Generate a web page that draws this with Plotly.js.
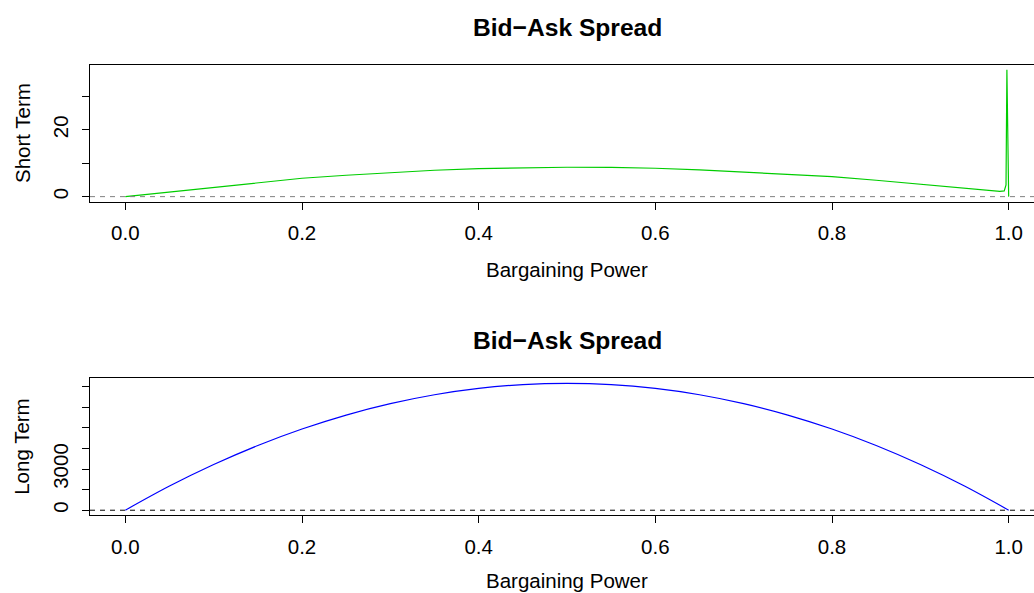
<!DOCTYPE html>
<html>
<head>
<meta charset="utf-8">
<script src="https://cdn.plot.ly/plotly-3.0.1.min.js"></script>
<style>
html, body { margin: 0; padding: 0; overflow: hidden; background: #fff; }
#chart { width: 1060px; height: 593px; }
</style>
</head>
<body>
<div id="chart"></div>
<script>
// ---- Data ----
const mainTitle = "Bid\u2212Ask Spread";
const xTitle = "Bargaining Power";
const shortTitle = "Short Term";
const longTitle = "Long Term";

const shortX = [0, 0.05, 0.1, 0.15, 0.2, 0.25, 0.3, 0.35, 0.4, 0.45, 0.5, 0.55, 0.6, 0.65, 0.7, 0.75, 0.8, 0.85, 0.9, 0.95, 0.98, 0.99, 0.995, 0.997, 0.998, 0.999, 1.0];
const shortY = [0, 1.4, 2.8, 4.2, 5.5, 6.4, 7.2, 7.9, 8.4, 8.7, 8.8, 8.75, 8.5, 8.0, 7.4, 6.8, 6.0, 4.9, 3.7, 2.6, 1.9, 1.6, 1.7, 3.5, 38, 12, 0];

const longX = [0, 0.05, 0.1, 0.15, 0.2, 0.25, 0.3, 0.35, 0.4, 0.45, 0.5, 0.55, 0.6, 0.65, 0.7, 0.75, 0.8, 0.85, 0.9, 0.95, 1.0];
const longY = [0, 1760, 3330, 4720, 5920, 6940, 7770, 8420, 8880, 9160, 9250, 9160, 8880, 8420, 7770, 6940, 5920, 4720, 3330, 1760, 0];

const xTickVals = [0, 0.2, 0.4, 0.6, 0.8, 1.0];
const xTickText = ["0.0", "0.2", "0.4", "0.6", "0.8", "1.0"];
const shortTickVals = [0, 10, 20, 30];
const shortTickText = ["0", "", "20", ""];
const longTickVals = [0, 1500, 3000, 4500, 6000, 7500, 9000];
const longTickText = ["0", "", "3000", "", "", "", ""];

// ---- Styling ----
const FONT = "Liberation Sans, Arial, Helvetica, sans-serif";
const FS = 20.5;
const H = 593;
const py = p => 1 - p / H;

const xAxisBase = {
  range: [-0.04, 1.04],
  tickmode: "array",
  tickvals: xTickVals,
  ticktext: xTickText,
  ticks: "outside",
  ticklen: 7,
  tickwidth: 1,
  tickcolor: "#000",
  showline: true,
  mirror: true,
  linecolor: "#000",
  linewidth: 1,
  showgrid: false,
  zeroline: false,
  automargin: false,
  ticklabelstandoff: 6,
  tickfont: { family: FONT, size: FS, color: "#000" }
};
const yAxisBase = {
  tickmode: "array",
  ticks: "outside",
  ticklen: 7,
  tickwidth: 1,
  tickcolor: "#000",
  tickangle: -90,
  showline: true,
  mirror: true,
  linecolor: "#000",
  linewidth: 1,
  showgrid: false,
  zeroline: false,
  automargin: false,
  ticklabelstandoff: 6,
  tickfont: { family: FONT, size: FS, color: "#000" }
};

const traces = [
  { x: shortX, y: shortY, type: "scatter", mode: "lines", xaxis: "x", yaxis: "y",
    line: { color: "#00CD00", width: 1.2 }, hoverinfo: "skip" },
  { x: longX, y: longY, type: "scatter", mode: "lines", xaxis: "x2", yaxis: "y2",
    line: { color: "#0000FF", width: 1.2, shape: "spline" }, hoverinfo: "skip" }
];

const layout = {
  width: 1060,
  height: H,
  margin: { l: 90, r: 16, t: 0, b: 0 },
  paper_bgcolor: "#fff",
  plot_bgcolor: "#fff",
  showlegend: false,
  font: { family: FONT, size: FS, color: "#000" },
  xaxis: Object.assign({}, xAxisBase, { domain: [0, 1], anchor: "y" }),
  yaxis: Object.assign({}, yAxisBase, { domain: [py(201.7), py(64.7)], anchor: "x",
    range: [-1.52, 39.52], tickvals: shortTickVals, ticktext: shortTickText }),
  xaxis2: Object.assign({}, xAxisBase, { domain: [0, 1], anchor: "y2" }),
  yaxis2: Object.assign({}, yAxisBase, { domain: [py(515.3), py(378.3)], anchor: "x2",
    range: [-370, 9620], tickvals: longTickVals, ticktext: longTickText }),
  shapes: [
    { type: "line", xref: "x domain", yref: "y", x0: 0, x1: 1, y0: 0, y1: 0,
      line: { color: "#808080", width: 1, dash: "5px,5px" } },
    { type: "line", xref: "x2 domain", yref: "y2", x0: 0, x1: 1, y0: 0, y1: 0,
      line: { color: "#000", width: 1, dash: "5px,5px" } }
  ],
  annotations: [
    { text: "<b>" + mainTitle + "</b>", xref: "paper", yref: "paper", x: 0.5, y: py(28),
      xanchor: "center", yanchor: "middle", showarrow: false, font: { family: FONT, size: 24.6 } },
    { text: "<b>" + mainTitle + "</b>", xref: "paper", yref: "paper", x: 0.5, y: py(340),
      xanchor: "center", yanchor: "middle", showarrow: false, font: { family: FONT, size: 24.6 } },
    { text: xTitle, xref: "paper", yref: "paper", x: 0.5, y: py(269),
      xanchor: "center", yanchor: "middle", showarrow: false, font: { family: FONT, size: FS } },
    { text: xTitle, xref: "paper", yref: "paper", x: 0.5, y: py(580),
      xanchor: "center", yanchor: "middle", showarrow: false, font: { family: FONT, size: FS } },
    { text: shortTitle, xref: "paper", yref: "paper", x: (22 - 90) / 954, y: py(133),
      xanchor: "center", yanchor: "middle", textangle: -90, showarrow: false, font: { family: FONT, size: FS } },
    { text: longTitle, xref: "paper", yref: "paper", x: (22 - 90) / 954, y: py(446.8),
      xanchor: "center", yanchor: "middle", textangle: -90, showarrow: false, font: { family: FONT, size: FS } }
  ]
};

Plotly.newPlot("chart", traces, layout, { staticPlot: true, displayModeBar: false });
</script>
</body>
</html>
